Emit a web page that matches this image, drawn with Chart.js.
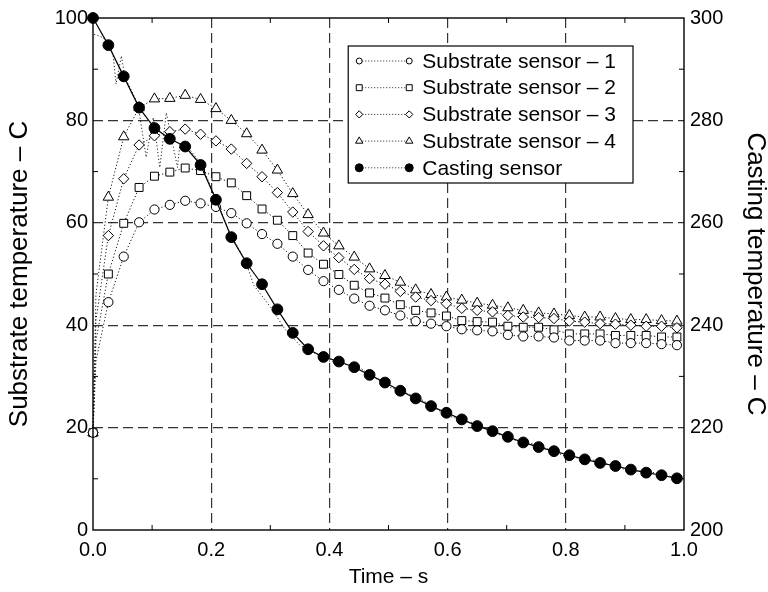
<!DOCTYPE html>
<html><head><meta charset="utf-8">
<script src="https://cdn.jsdelivr.net/npm/chart.js@4"></script>
<style>html,body{margin:0;padding:0;background:#fff}#wrap{width:768px;height:592px;position:relative}</style>
</head><body><div id="wrap"><canvas id="c" width="768" height="592"></canvas></div>
<script>
// ---- data ----
const time = [0.000, 0.026, 0.052, 0.078, 0.104, 0.130, 0.156, 0.182, 0.208, 0.234, 0.260, 0.286, 0.312, 0.338, 0.364, 0.390, 0.416, 0.442, 0.468, 0.494, 0.520, 0.546, 0.572, 0.598, 0.624, 0.650, 0.676, 0.702, 0.728, 0.754, 0.780, 0.806, 0.832, 0.858, 0.884, 0.910, 0.936, 0.962, 0.988];
const sensor1 = [19, 44.5, 53.4, 60.1, 62.6, 63.5, 64.3, 63.8, 63.1, 61.9, 59.9, 57.8, 55.9, 53.4, 50.8, 48.6, 46.9, 45.2, 43.8, 42.9, 41.9, 40.8, 40.3, 39.8, 39.2, 39.0, 38.8, 38.1, 37.8, 37.8, 37.6, 37.0, 37.0, 37.0, 36.5, 36.5, 36.5, 36.3, 36.1];
const sensor2 = [19, 50.0, 59.9, 66.9, 69.1, 69.9, 70.7, 70.2, 69.0, 67.8, 65.3, 62.7, 60.5, 57.5, 54.1, 51.9, 49.9, 47.8, 46.3, 45.3, 44.0, 42.9, 42.4, 41.8, 40.9, 40.7, 40.6, 39.8, 39.6, 39.6, 39.1, 38.3, 38.3, 38.3, 38.0, 38.0, 38.0, 37.7, 37.7];
const sensor3 = [19, 57.5, 68.6, 75.2, 77.0, 77.8, 78.3, 77.3, 76.0, 74.4, 71.6, 69.0, 65.9, 62.1, 58.3, 55.5, 53.2, 50.9, 49.1, 48.0, 46.6, 45.5, 44.8, 44.2, 43.3, 42.9, 42.6, 41.9, 41.6, 41.5, 41.3, 40.8, 40.6, 40.3, 40.2, 40.0, 39.8, 39.8, 39.5];
const sensor4 = [19, 65.0, 76.8, 82.5, 84.2, 84.3, 84.9, 84.1, 82.3, 80.0, 77.4, 74.2, 70.3, 65.7, 61.6, 58.0, 55.5, 53.3, 51.0, 49.7, 48.4, 46.9, 46.0, 45.5, 44.9, 44.3, 43.9, 43.4, 42.9, 42.4, 42.2, 41.9, 41.6, 41.6, 41.3, 41.1, 41.1, 40.9, 40.8];
const casting = [300, 294.7, 288.6, 282.5, 278.5, 276.4, 274.9, 271.3, 264.5, 257.2, 252.1, 248.0, 243.1, 238.5, 235.3, 233.8, 232.9, 231.8, 230.3, 228.8, 227.2, 225.7, 224.2, 222.9, 221.6, 220.3, 219.3, 218.2, 217.1, 216.2, 215.4, 214.6, 213.8, 213.1, 212.5, 211.8, 211.2, 210.7, 210.1];
// steep initial rise of the substrate traces (unmarked sample)
const riseTime = [0.005];
const rise1 = [33];
const rise2 = [37];
const rise3 = [41];
const rise4 = [46];
// raw (unsmoothed) casting trace, dotted, no markers
const rawTime = [0.002, 0.017, 0.025, 0.034, 0.039, 0.048, 0.054, 0.076, 0.090, 0.102, 0.113, 0.124, 0.143, 0.147, 0.161, 0.183, 0.205, 0.232, 0.258, 0.272, 0.300, 0.325, 0.350, 0.400, 0.450, 0.500, 0.550, 0.600, 0.650, 0.700, 0.750, 0.800, 0.850, 0.900, 0.950, 0.990];
const rawCasting = [296.8, 296.2, 295.2, 292.9, 287.1, 292.6, 288.4, 283.2, 272.8, 280.6, 270.8, 281.5, 270.8, 275.4, 274.7, 271.5, 265.5, 257.9, 252.6, 247.8, 243.6, 239.2, 236.1, 233.0, 231.8, 228.0, 225.9, 222.3, 220.7, 217.9, 216.7, 214.4, 213.6, 211.8, 211.2, 210.1];
const seriesLabels = ['Substrate sensor \u2013 1', 'Substrate sensor \u2013 2', 'Substrate sensor \u2013 3', 'Substrate sensor \u2013 4', 'Casting sensor'];
const xTitle = 'Time \u2013 s';
const yTitle = 'Substrate temperature \u2013 C';
const y2Title = 'Casting temperature \u2013 C';

// ---- build ----
const FONT = '"Liberation Sans", Arial, Helvetica, sans-serif';
function pts(xs, ys) { return xs.map((x, i) => ({ x: x, y: ys[i] })); }
function withRise(vals, rise) {
  const p = pts(time, vals);
  const r = pts(riseTime, rise).map(o => ({ x: o.x, y: o.y, hidden: true }));
  p.splice(1, 0, ...r);
  return p;
}
function subDs(label, vals, rise, style, radius, legendRadius) {
  return {
    label: label, data: withRise(vals, rise), yAxisID: 'y',
    borderColor: '#111', borderWidth: 1, borderDash: [1.2, 2.2], fill: false, tension: 0,
    pointStyle: style,
    pointRadius: ctx => (ctx.raw && ctx.raw.hidden) ? 0 : radius,
    pointBorderColor: '#000', pointBackgroundColor: '#fff', pointBorderWidth: 1,
    legendRadius: legendRadius, clip: false
  };
}

function drawMarker(ctx, style, r, x, y, fill) {
  ctx.beginPath();
  if (style === 'circle') { ctx.arc(x, y, r, 0, Math.PI * 2); }
  else if (style === 'rect') { const s = r * Math.SQRT1_2; ctx.rect(x - s, y - s, 2 * s, 2 * s); }
  else if (style === 'rectRot') { ctx.moveTo(x - r, y); ctx.lineTo(x, y - r); ctx.lineTo(x + r, y); ctx.lineTo(x, y + r); ctx.closePath(); }
  else if (style === 'triangle') {
    ctx.moveTo(x, y - r); ctx.lineTo(x + r * Math.sin(Math.PI * 2 / 3), y - r * Math.cos(Math.PI * 2 / 3));
    ctx.lineTo(x - r * Math.sin(Math.PI * 2 / 3), y - r * Math.cos(Math.PI * 2 / 3)); ctx.closePath();
  }
  ctx.fillStyle = fill; ctx.fill(); ctx.lineWidth = 1; ctx.strokeStyle = '#000'; ctx.stroke();
}

const boxLegend = {
  id: 'boxLegend',
  afterDatasetsDraw(chart) {
    const ctx = chart.ctx, ca = chart.chartArea;
    const items = chart.data.datasets.filter(d => d.label && !d.noLegend);
    ctx.save();
    ctx.font = '21px ' + FONT;
    const textW = Math.max(...items.map(d => ctx.measureText(d.label).width));
    const w = 74 + textW + 17, h = 137, rowH = 26.7;
    const right = ca.right - 51, left = right - w, top = ca.top + 28;
    ctx.fillStyle = '#fff'; ctx.fillRect(left, top, w, h);
    ctx.strokeStyle = '#000'; ctx.lineWidth = 1.2; ctx.strokeRect(left, top, w, h);
    items.forEach((d, i) => {
      const y = top + 15 + i * rowH;
      ctx.save(); ctx.setLineDash([1, 2]); ctx.lineWidth = 1; ctx.strokeStyle = '#222';
      ctx.beginPath(); ctx.moveTo(left + 11, y); ctx.lineTo(left + 61, y); ctx.stroke(); ctx.restore();
      drawMarker(ctx, d.pointStyle, d.legendRadius, left + 11, y, d.pointBackgroundColor);
      drawMarker(ctx, d.pointStyle, d.legendRadius, left + 61, y, d.pointBackgroundColor);
      ctx.fillStyle = '#000'; ctx.textBaseline = 'middle'; ctx.textAlign = 'left';
      ctx.fillText(d.label, left + 74, y + 1);
    });
    ctx.restore();
  }
};

const frame = {
  id: 'frame',
  afterDraw(chart) {
    const ctx = chart.ctx, ca = chart.chartArea, sx = chart.scales.x, sy = chart.scales.y;
    ctx.save();
    ctx.strokeStyle = '#000'; ctx.lineWidth = 1.4;
    ctx.strokeRect(ca.left, ca.top, ca.right - ca.left, ca.bottom - ca.top);
    ctx.lineWidth = 1; const L = 5;
    const xt = sx.ticks.map(t => t.value);
    for (let i = 0; i < xt.length - 1; i++) {
      const px = sx.getPixelForValue((xt[i] + xt[i + 1]) / 2);
      ctx.beginPath(); ctx.moveTo(px, ca.bottom); ctx.lineTo(px, ca.bottom - L);
      ctx.moveTo(px, ca.top); ctx.lineTo(px, ca.top + L); ctx.stroke();
    }
    const yt = sy.ticks.map(t => t.value);
    for (let i = 0; i < yt.length - 1; i++) {
      const py = sy.getPixelForValue((yt[i] + yt[i + 1]) / 2);
      ctx.beginPath(); ctx.moveTo(ca.left, py); ctx.lineTo(ca.left + L, py);
      ctx.moveTo(ca.right, py); ctx.lineTo(ca.right - L, py); ctx.stroke();
    }
    ctx.restore();
  }
};

const gridColor = ctx => {
  const s = ctx.scale;
  if (!ctx.tick) return 'rgba(0,0,0,0)';
  const v = ctx.tick.value;
  return (Math.abs(v - s.min) < 1e-9 || Math.abs(v - s.max) < 1e-9) ? 'rgba(0,0,0,0)' : '#333';
};

new Chart(document.getElementById('c'), {
  type: 'line',
  data: {
    datasets: [
      subDs(seriesLabels[0], sensor1, rise1, 'circle', 4.6, 3),
      subDs(seriesLabels[1], sensor2, rise2, 'rect', 5.6, 4.2),
      subDs(seriesLabels[2], sensor3, rise3, 'rectRot', 5.2, 3.6),
      subDs(seriesLabels[3], sensor4, rise4, 'triangle', 6, 4.2),
      {
        label: seriesLabels[4], data: pts(time, casting), yAxisID: 'y2', order: -1,
        borderColor: '#000', borderWidth: 1.2, fill: false, tension: 0,
        pointStyle: 'circle', pointRadius: 5.4, pointBackgroundColor: '#000', pointBorderColor: '#000',
        pointBorderWidth: 1, legendRadius: 4, clip: false
      },
      {
        label: '', noLegend: true, data: pts(rawTime, rawCasting), yAxisID: 'y2',
        borderColor: '#222', borderWidth: 1, borderDash: [1.2, 2.2], fill: false, tension: 0,
        pointRadius: 0, clip: false
      }
    ]
  },
  options: {
    responsive: false, animation: false, devicePixelRatio: 1,
    layout: { padding: { top: 17, left: 0, right: 0, bottom: 0 } },
    plugins: { legend: { display: false }, tooltip: { enabled: false } },
    scales: {
      x: {
        type: 'linear', position: 'bottom', min: 0, max: 1,
        afterFit: s => { s.height = 62; },
        ticks: { stepSize: 0.2, callback: v => Number(v).toFixed(1), color: '#000', font: { family: FONT, size: 20 }, padding: 8, maxRotation: 0 },
        grid: { color: gridColor, lineWidth: 1.2, drawTicks: false, borderDash: [10, 5] },
        border: { display: false, dash: [10, 5] },
        title: { display: true, text: xTitle, color: '#000', font: { family: FONT, size: 21 }, padding: { top: 0, bottom: 2 } }
      },
      y: {
        type: 'linear', position: 'left', min: 0, max: 100,
        afterFit: s => { s.width = 93; },
        ticks: { stepSize: 20, color: '#000', font: { family: FONT, size: 20 }, padding: 5 },
        grid: { color: gridColor, lineWidth: 1.2, drawTicks: false, borderDash: [10, 5] },
        border: { display: false, dash: [10, 5] },
        title: { display: true, text: yTitle, color: '#000', font: { family: FONT, size: 26, lineHeight: 1 }, padding: { top: 7, bottom: 0 } }
      },
      y2: {
        type: 'linear', position: 'right', min: 200, max: 300,
        afterFit: s => { s.width = 84; },
        ticks: { stepSize: 20, color: '#000', font: { family: FONT, size: 20 }, padding: 6 },
        grid: { drawOnChartArea: false, drawTicks: false },
        border: { display: false },
        title: { display: true, text: y2Title, color: '#000', font: { family: FONT, size: 26, lineHeight: 1 }, padding: { top: 0, bottom: 0 } }
      }
    }
  },
  plugins: [boxLegend, frame]
});
</script>
</body></html>
